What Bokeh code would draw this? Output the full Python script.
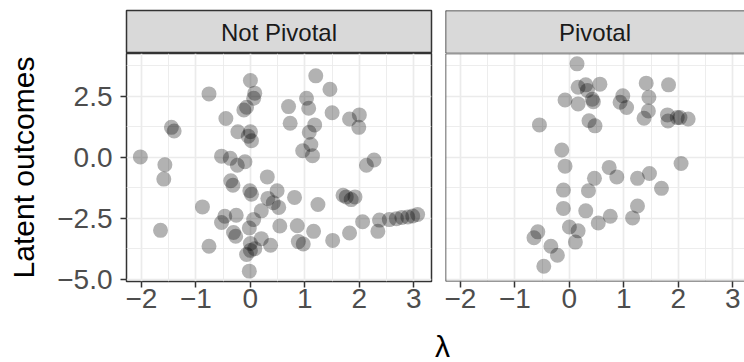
from bokeh.plotting import figure
from bokeh.models import (Range1d, FixedTicker, Label, Div, ColumnDataSource,
                          CustomJSTickFormatter, Span)
from bokeh.layouts import gridplot, column
from bokeh.embed import file_html
from bokeh.resources import INLINE

# ---------------- data ----------------
facet_labels = ["Not Pivotal", "Pivotal"]

not_pivotal_lambda = [0.00, -0.76, 0.08, 0.06, -0.07, -0.12, 0.70, 0.73, -1.45, -1.40,
                      -0.45, -0.23, 0.00, -0.04, 0.02, -2.02, -1.57, -0.53, -0.37, -0.24,
                      -0.10, -1.59, 0.31, -0.36, -0.32, -0.01, 0.02, 0.49, 0.32, 0.42,
                      0.52, 0.81, -0.88, 0.20, -0.26, -0.47, -0.53, 0.06, -0.02, 0.54,
                      0.86, -1.65, -0.31, -0.27, 0.20, 0.37, -0.76, 0.00, 0.08, 0.00,
                      -0.07, -0.02, 0.88, 0.97, 1.20, 1.46, 1.03, 1.07, 1.50, 1.82,
                      2.00, 1.99, 1.18, 1.08, 1.11, 0.96, 1.14, 2.27, 2.13, 1.24,
                      1.70, 1.76, 1.85, 1.92, 1.16, 1.51, 1.82, 2.06, 2.34, 2.37,
                      2.55, 2.68, 2.78, 2.89, 2.98, 3.07]
not_pivotal_latent = [3.15, 2.60, 2.63, 2.42, 2.05, 1.94, 2.08, 1.40, 1.23, 1.08,
                      1.59, 1.05, 1.05, 0.87, 0.68, 0.02, -0.30, 0.05, -0.04, -0.32,
                      -0.18, -0.89, -0.80, -0.96, -1.14, -1.37, -1.51, -1.37, -1.68, -1.86,
                      -2.05, -1.64, -2.03, -2.19, -2.37, -2.41, -2.67, -2.55, -2.89, -2.81,
                      -2.80, -2.99, -3.08, -3.23, -3.33, -3.60, -3.64, -3.53, -3.74, -3.81,
                      -3.98, -4.66, -3.45, -3.55, 3.34, 2.79, 2.42, 2.01, 1.83, 1.57,
                      1.74, 1.23, 1.33, 1.03, 0.53, 0.27, 0.07, -0.11, -0.32, -1.93,
                      -1.55, -1.62, -1.73, -1.62, -3.03, -3.40, -3.10, -2.64, -3.03, -2.57,
                      -2.55, -2.51, -2.46, -2.44, -2.40, -2.34]

pivotal_lambda = [0.14, 0.16, 0.30, 0.33, 0.56, -0.08, 0.16, 0.42, 0.44, 0.36,
                  0.47, -0.55, -0.14, -0.08, -0.11, 0.35, 0.46, -0.11, 0.30, 0.53,
                  0.00, 0.16, 0.11, -0.58, -0.65, -0.34, -0.22, -0.47, 1.41, 1.82,
                  0.98, 0.93, 1.05, 1.46, 1.45, 1.37, 1.80, 1.81, 1.98, 2.03,
                  2.18, 2.05, 0.73, 0.87, 1.25, 1.47, 1.69, 0.75, 1.25, 1.16]
pivotal_latent = [3.83, 2.87, 2.97, 2.74, 3.00, 2.35, 2.19, 2.38, 2.28, 1.50,
                  1.29, 1.33, 0.30, -0.36, -1.34, -1.37, -0.86, -2.09, -2.19, -2.69,
                  -2.85, -3.01, -3.47, -3.05, -3.29, -3.64, -4.01, -4.46, 3.04, 2.97,
                  2.52, 2.26, 2.04, 2.46, 1.90, 1.60, 1.74, 1.49, 1.63, 1.63,
                  1.57, -0.25, -0.41, -0.80, -0.86, -0.66, -1.27, -2.41, -1.99, -2.48]

x_ticks = [-2, -1, 0, 1, 2, 3]
x_tick_labels = ["\u22122", "\u22121", "0", "1", "2", "3"]
x_minor_ticks = [-1.5, -0.5, 0.5, 1.5, 2.5]
y_ticks = [-5.0, -2.5, 0.0, 2.5]
y_tick_labels = ["\u22125.0", "\u22122.5", "0.0", "2.5"]
y_minor_ticks = [-3.75, -1.25, 1.25, 3.75]

x_title = "\u03bb"
y_title = "Latent outcomes"

# ---------------- scales (ggplot-like 5% expansion, shared) ----------------
all_x = not_pivotal_lambda + pivotal_lambda
all_y = not_pivotal_latent + pivotal_latent
xpad = 0.05 * (max(all_x) - min(all_x))
ypad = 0.05 * (max(all_y) - min(all_y))
x0, x1 = min(all_x) - xpad, max(all_x) + xpad
y0, y1 = min(all_y) - ypad, max(all_y) + ypad

FONT = "Liberation Sans"
DARK = "#333333"
GRID = "#ebebeb"

W1, LB1, RB1 = 438, 126, 7
W2, LB2, RB2 = 306, 7, 0
FRAME1 = W1 - LB1 - RB1
FRAME2 = W2 - LB2 - RB2
px_per_unit = FRAME1 / (x1 - x0)
x1_right = x0 + FRAME2 / px_per_unit

PANEL_H = 272
STRIP_H = 53


def formatter(tick_values, tick_texts):
    return CustomJSTickFormatter(args=dict(tv=tick_values, tt=tick_texts), code="""
        for (let i = 0; i < tv.length; i++) {
            if (Math.abs(tv[i] - tick) < 1e-9) return tt[i];
        }
        return "";
    """)


def open_right_border(fig, xlo, ylo, yhi):
    # draw left/top/bottom border only (the right edge is cut off by the page)
    fig.outline_line_color = None
    for loc, dim in ((ylo, "width"), (yhi, "width"), (xlo, "height")):
        fig.add_layout(Span(location=loc, dimension=dim, line_color=DARK,
                            line_width=1.5))


def make_panel(width, lb, rb, xr, xs, ys, show_y):
    p = figure(width=width, height=PANEL_H, x_range=xr, y_range=Range1d(y0, y1),
               min_border_left=lb, min_border_right=rb, min_border_top=0,
               min_border_bottom=44, output_backend="svg", toolbar_location=None)
    p.background_fill_color = "white"
    p.border_fill_color = "white"
    p.outline_line_color = DARK
    p.outline_line_width = 1.5

    p.xgrid.ticker = FixedTicker(ticks=x_ticks, minor_ticks=x_minor_ticks)
    p.ygrid.ticker = FixedTicker(ticks=y_ticks, minor_ticks=y_minor_ticks)
    for g in (p.xgrid, p.ygrid):
        g.grid_line_color = GRID
        g.grid_line_width = 1.7
        g.minor_grid_line_color = GRID
        g.minor_grid_line_width = 0.9

    ax = p.xaxis[0]
    ax.ticker = FixedTicker(ticks=x_ticks, minor_ticks=[])
    ax.formatter = formatter(x_ticks, x_tick_labels)
    ax.axis_line_color = None
    ax.major_tick_line_color = DARK
    ax.major_tick_line_width = 1.5
    ax.major_tick_out = 6
    ax.major_tick_in = 0
    ax.minor_tick_line_color = None
    ax.major_label_text_font = FONT
    ax.major_label_text_font_size = "28px"
    ax.major_label_text_color = "#4d4d4d"
    ax.major_label_standoff = 1

    ay = p.yaxis[0]
    if show_y:
        ay.ticker = FixedTicker(ticks=y_ticks, minor_ticks=[])
        ay.formatter = formatter(y_ticks, y_tick_labels)
        ay.axis_line_color = None
        ay.major_tick_line_color = DARK
        ay.major_tick_line_width = 1.5
        ay.major_tick_out = 6
        ay.major_tick_in = 0
        ay.minor_tick_line_color = None
        ay.major_label_text_font = FONT
        ay.major_label_text_font_size = "28px"
        ay.major_label_text_color = "#4d4d4d"
        ay.major_label_standoff = 8
        ay.axis_label = y_title
        ay.axis_label_text_font = FONT
        ay.axis_label_text_font_size = "30px"
        ay.axis_label_text_font_style = "normal"
        ay.axis_label_text_color = "black"
        ay.axis_label_standoff = 14
    else:
        ay.visible = False

    src = ColumnDataSource(dict(lam=xs, latent=ys))
    p.scatter(x="lam", y="latent", source=src, size=15, fill_color="black",
              fill_alpha=0.3, line_color=None)
    return p


def make_strip(width, lb, rb, text):
    s = figure(width=width, height=STRIP_H, x_range=Range1d(0, 1), y_range=Range1d(0, 1),
               min_border_left=lb, min_border_right=rb, min_border_top=10,
               min_border_bottom=0, output_backend="svg", toolbar_location=None)
    s.axis.visible = False
    s.grid.visible = False
    s.background_fill_color = "#d9d9d9"
    s.border_fill_color = "white"
    s.outline_line_color = DARK
    s.outline_line_width = 1.5
    s.add_layout(Label(x=0.5, y=0.5, text=text, text_align="center",
                       text_baseline="middle", text_font=FONT,
                       text_font_size="24px", text_color="#1a1a1a"))
    return s


s1 = make_strip(W1, LB1, RB1, facet_labels[0])
s2 = make_strip(W2, LB2, RB2, facet_labels[1])
open_right_border(s2, 0, 0, 1)
p1 = make_panel(W1, LB1, RB1, Range1d(x0, x1), not_pivotal_lambda, not_pivotal_latent, True)
p2 = make_panel(W2, LB2, RB2, Range1d(x0, x1_right), pivotal_lambda, pivotal_latent, False)
open_right_border(p2, x0, y0, y1)

grid = gridplot([[s1, s2], [p1, p2]], toolbar_location=None)

xlabel = Div(text='<div style="margin-left:430px;margin-top:2px;font-family:\'Liberation Sans\';'
                  'font-size:30px;line-height:30px;color:black;">' + x_title + '</div>',
             width=W1 + W2, height=34)

layout = column(grid, xlabel)

open("out.html", "w").write(file_html(layout, INLINE))
